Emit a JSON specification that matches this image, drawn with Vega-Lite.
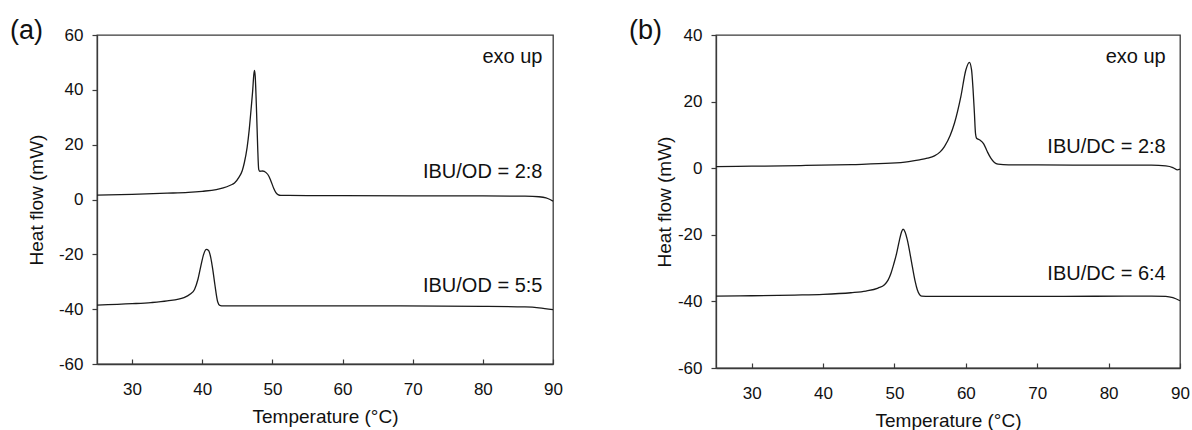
{
  "$schema": "https://vega.github.io/schema/vega-lite/v6.json",
  "padding": {"left": 9, "top": 16, "right": 5, "bottom": 5},
  "spacing": 64,
  "config": {
    "font": "Liberation Sans",
    "view": {"stroke": "#3a3a3a", "strokeWidth": 1.3},
    "axis": {"grid": false, "domainColor": "#3a3a3a", "domainWidth": 1.3, "tickColor": "#3a3a3a", "tickWidth": 1.2, "labelColor": "#111111", "titleColor": "#111111", "labelFontSize": 17, "titleFontSize": 19, "titleFontWeight": "normal", "labelFont": "Liberation Sans", "titleFont": "Liberation Sans", "labelExpr": "'' + datum.value"},
    "axisX": {"tickSize": -5, "labelPadding": 22, "titlePadding": 10, "labelFlush": false},
    "axisY": {"tickSize": 5, "labelPadding": 9, "titlePadding": 10},
    "title": {"fontSize": 27, "fontWeight": "normal", "anchor": "start", "frame": "group", "color": "#111111", "font": "Liberation Sans"}
  },
  "hconcat": [
    {
      "width": 456,
      "height": 329,
      "title": {"text": "(a)", "dx": -87, "offset": -19},
      "layer": [
        {
          "data": {"values": [
            {"s": "IBU/OD = 2:8", "t": 25, "q": 1.6},
            {"s": "IBU/OD = 2:8", "t": 30, "q": 1.9},
            {"s": "IBU/OD = 2:8", "t": 35, "q": 2.3},
            {"s": "IBU/OD = 2:8", "t": 38, "q": 2.6},
            {"s": "IBU/OD = 2:8", "t": 40, "q": 3.0},
            {"s": "IBU/OD = 2:8", "t": 42, "q": 3.6},
            {"s": "IBU/OD = 2:8", "t": 43, "q": 4.2},
            {"s": "IBU/OD = 2:8", "t": 44, "q": 5.2},
            {"s": "IBU/OD = 2:8", "t": 44.6, "q": 6.0},
            {"s": "IBU/OD = 2:8", "t": 45.2, "q": 8.0},
            {"s": "IBU/OD = 2:8", "t": 45.7, "q": 10.5},
            {"s": "IBU/OD = 2:8", "t": 46.0, "q": 13.4},
            {"s": "IBU/OD = 2:8", "t": 46.4, "q": 19},
            {"s": "IBU/OD = 2:8", "t": 46.7, "q": 25.5},
            {"s": "IBU/OD = 2:8", "t": 47.0, "q": 34},
            {"s": "IBU/OD = 2:8", "t": 47.2, "q": 40},
            {"s": "IBU/OD = 2:8", "t": 47.35, "q": 45.5},
            {"s": "IBU/OD = 2:8", "t": 47.45, "q": 47.1},
            {"s": "IBU/OD = 2:8", "t": 47.55, "q": 45},
            {"s": "IBU/OD = 2:8", "t": 47.75, "q": 31.6},
            {"s": "IBU/OD = 2:8", "t": 47.9, "q": 19.4},
            {"s": "IBU/OD = 2:8", "t": 48.05, "q": 11},
            {"s": "IBU/OD = 2:8", "t": 48.2, "q": 10.3},
            {"s": "IBU/OD = 2:8", "t": 48.6, "q": 10.4},
            {"s": "IBU/OD = 2:8", "t": 49.1, "q": 9.8},
            {"s": "IBU/OD = 2:8", "t": 49.5, "q": 8.5},
            {"s": "IBU/OD = 2:8", "t": 49.8, "q": 6.7},
            {"s": "IBU/OD = 2:8", "t": 50.2, "q": 4.0},
            {"s": "IBU/OD = 2:8", "t": 50.5, "q": 2.5},
            {"s": "IBU/OD = 2:8", "t": 50.8, "q": 1.8},
            {"s": "IBU/OD = 2:8", "t": 51.2, "q": 1.5},
            {"s": "IBU/OD = 2:8", "t": 55, "q": 1.45},
            {"s": "IBU/OD = 2:8", "t": 60, "q": 1.4},
            {"s": "IBU/OD = 2:8", "t": 70, "q": 1.35},
            {"s": "IBU/OD = 2:8", "t": 80, "q": 1.3},
            {"s": "IBU/OD = 2:8", "t": 86, "q": 1.2},
            {"s": "IBU/OD = 2:8", "t": 88, "q": 1.0},
            {"s": "IBU/OD = 2:8", "t": 89, "q": 0.6},
            {"s": "IBU/OD = 2:8", "t": 89.5, "q": 0.1},
            {"s": "IBU/OD = 2:8", "t": 90, "q": -0.6},
            {"s": "IBU/OD = 5:5", "t": 25, "q": -38.5},
            {"s": "IBU/OD = 5:5", "t": 30, "q": -38.0},
            {"s": "IBU/OD = 5:5", "t": 32.7, "q": -37.6},
            {"s": "IBU/OD = 5:5", "t": 35, "q": -37.0},
            {"s": "IBU/OD = 5:5", "t": 37.4, "q": -35.8},
            {"s": "IBU/OD = 5:5", "t": 38.3, "q": -34.5},
            {"s": "IBU/OD = 5:5", "t": 38.9, "q": -32.8},
            {"s": "IBU/OD = 5:5", "t": 39.4, "q": -29},
            {"s": "IBU/OD = 5:5", "t": 39.8, "q": -24.3},
            {"s": "IBU/OD = 5:5", "t": 40.2, "q": -20},
            {"s": "IBU/OD = 5:5", "t": 40.6, "q": -18.2},
            {"s": "IBU/OD = 5:5", "t": 40.9, "q": -18.6},
            {"s": "IBU/OD = 5:5", "t": 41.2, "q": -21},
            {"s": "IBU/OD = 5:5", "t": 41.5, "q": -25.5},
            {"s": "IBU/OD = 5:5", "t": 41.8, "q": -31},
            {"s": "IBU/OD = 5:5", "t": 42.2, "q": -37.3},
            {"s": "IBU/OD = 5:5", "t": 42.5, "q": -38.6},
            {"s": "IBU/OD = 5:5", "t": 43, "q": -38.8},
            {"s": "IBU/OD = 5:5", "t": 60, "q": -38.8},
            {"s": "IBU/OD = 5:5", "t": 80, "q": -39.0},
            {"s": "IBU/OD = 5:5", "t": 86, "q": -39.2},
            {"s": "IBU/OD = 5:5", "t": 88, "q": -39.5},
            {"s": "IBU/OD = 5:5", "t": 90, "q": -40.2}
          ]},
          "mark": {"type": "line", "color": "#1a1a1a", "strokeWidth": 1.3, "interpolate": "monotone"},
          "encoding": {
            "x": {"field": "t", "type": "quantitative", "scale": {"domain": [25, 90], "nice": false, "zero": false}, "axis": {"values": [30, 40, 50, 60, 70, 80, 90], "title": "Temperature (°C)"}},
            "y": {"field": "q", "type": "quantitative", "scale": {"domain": [-60, 60], "nice": false, "zero": false}, "axis": {"values": [-60, -40, -20, 0, 20, 40, 60], "title": "Heat flow (mW)", "titlePadding": 12}},
            "detail": {"field": "s"}
          }
        },
        {
          "data": {"values": [
            {"label": "exo up", "t": 88.5, "q": 49.7},
            {"label": "IBU/OD = 2:8", "t": 88.5, "q": 8.0},
            {"label": "IBU/OD = 5:5", "t": 88.5, "q": -33.7}
          ]},
          "mark": {"type": "text", "align": "right", "baseline": "alphabetic", "fontSize": 20, "color": "#111111", "font": "Liberation Sans"},
          "encoding": {
            "x": {"field": "t", "type": "quantitative"},
            "y": {"field": "q", "type": "quantitative"},
            "text": {"field": "label"}
          }
        }
      ]
    },
    {
      "width": 464,
      "height": 333,
      "title": {"text": "(b)", "dx": -87, "offset": -19},
      "layer": [
        {
          "data": {"values": [
            {"s": "IBU/DC = 2:8", "t": 25, "q": 0.5},
            {"s": "IBU/DC = 2:8", "t": 30, "q": 0.6},
            {"s": "IBU/DC = 2:8", "t": 36.9, "q": 0.8},
            {"s": "IBU/DC = 2:8", "t": 44, "q": 1.1},
            {"s": "IBU/DC = 2:8", "t": 49.5, "q": 1.5},
            {"s": "IBU/DC = 2:8", "t": 52, "q": 2.0},
            {"s": "IBU/DC = 2:8", "t": 53.5, "q": 2.5},
            {"s": "IBU/DC = 2:8", "t": 54.6, "q": 3.0},
            {"s": "IBU/DC = 2:8", "t": 55.6, "q": 3.7},
            {"s": "IBU/DC = 2:8", "t": 56.4, "q": 4.9},
            {"s": "IBU/DC = 2:8", "t": 57.0, "q": 6.5},
            {"s": "IBU/DC = 2:8", "t": 57.8, "q": 9.8},
            {"s": "IBU/DC = 2:8", "t": 58.4, "q": 13.5},
            {"s": "IBU/DC = 2:8", "t": 59.3, "q": 21.5},
            {"s": "IBU/DC = 2:8", "t": 60.0, "q": 29.5},
            {"s": "IBU/DC = 2:8", "t": 60.5, "q": 31.8},
            {"s": "IBU/DC = 2:8", "t": 60.8, "q": 29.5},
            {"s": "IBU/DC = 2:8", "t": 61.0, "q": 24},
            {"s": "IBU/DC = 2:8", "t": 61.2, "q": 16.5},
            {"s": "IBU/DC = 2:8", "t": 61.35, "q": 10.5},
            {"s": "IBU/DC = 2:8", "t": 61.5, "q": 9.0},
            {"s": "IBU/DC = 2:8", "t": 62.0, "q": 8.4},
            {"s": "IBU/DC = 2:8", "t": 62.5, "q": 7.3},
            {"s": "IBU/DC = 2:8", "t": 63.0, "q": 5.0},
            {"s": "IBU/DC = 2:8", "t": 63.5, "q": 3.0},
            {"s": "IBU/DC = 2:8", "t": 64.0, "q": 1.7},
            {"s": "IBU/DC = 2:8", "t": 64.5, "q": 1.2},
            {"s": "IBU/DC = 2:8", "t": 66, "q": 1.0},
            {"s": "IBU/DC = 2:8", "t": 75, "q": 0.95},
            {"s": "IBU/DC = 2:8", "t": 86, "q": 0.9},
            {"s": "IBU/DC = 2:8", "t": 88, "q": 0.7},
            {"s": "IBU/DC = 2:8", "t": 89, "q": 0.2},
            {"s": "IBU/DC = 2:8", "t": 89.6, "q": -0.5},
            {"s": "IBU/DC = 2:8", "t": 90, "q": -0.3},
            {"s": "IBU/DC = 6:4", "t": 25, "q": -38.4},
            {"s": "IBU/DC = 6:4", "t": 30, "q": -38.3},
            {"s": "IBU/DC = 6:4", "t": 36, "q": -38.1},
            {"s": "IBU/DC = 6:4", "t": 40, "q": -37.9},
            {"s": "IBU/DC = 6:4", "t": 43.9, "q": -37.4},
            {"s": "IBU/DC = 6:4", "t": 46, "q": -36.9},
            {"s": "IBU/DC = 6:4", "t": 47.7, "q": -36.0},
            {"s": "IBU/DC = 6:4", "t": 48.6, "q": -35.0},
            {"s": "IBU/DC = 6:4", "t": 49.1, "q": -33.6},
            {"s": "IBU/DC = 6:4", "t": 49.5, "q": -31.6},
            {"s": "IBU/DC = 6:4", "t": 49.9, "q": -28.8},
            {"s": "IBU/DC = 6:4", "t": 50.3, "q": -25.6},
            {"s": "IBU/DC = 6:4", "t": 50.7, "q": -21.6},
            {"s": "IBU/DC = 6:4", "t": 51.0, "q": -19.1},
            {"s": "IBU/DC = 6:4", "t": 51.2, "q": -18.3},
            {"s": "IBU/DC = 6:4", "t": 51.5, "q": -19.2},
            {"s": "IBU/DC = 6:4", "t": 51.8, "q": -21.5},
            {"s": "IBU/DC = 6:4", "t": 52.5, "q": -29.5},
            {"s": "IBU/DC = 6:4", "t": 52.9, "q": -34},
            {"s": "IBU/DC = 6:4", "t": 53.2, "q": -36.5},
            {"s": "IBU/DC = 6:4", "t": 53.8, "q": -38.4},
            {"s": "IBU/DC = 6:4", "t": 55, "q": -38.5},
            {"s": "IBU/DC = 6:4", "t": 70, "q": -38.5},
            {"s": "IBU/DC = 6:4", "t": 86, "q": -38.4},
            {"s": "IBU/DC = 6:4", "t": 88, "q": -38.5},
            {"s": "IBU/DC = 6:4", "t": 89, "q": -38.9},
            {"s": "IBU/DC = 6:4", "t": 90, "q": -39.8}
          ]},
          "mark": {"type": "line", "color": "#1a1a1a", "strokeWidth": 1.3, "interpolate": "monotone"},
          "encoding": {
            "x": {"field": "t", "type": "quantitative", "scale": {"domain": [25, 90], "nice": false, "zero": false}, "axis": {"values": [30, 40, 50, 60, 70, 80, 90], "title": "Temperature (°C)"}},
            "y": {"field": "q", "type": "quantitative", "scale": {"domain": [-60, 40], "nice": false, "zero": false}, "axis": {"values": [-60, -40, -20, 0, 20, 40], "title": "Heat flow (mW)", "titlePadding": 3}},
            "detail": {"field": "s"}
          }
        },
        {
          "data": {"values": [
            {"label": "exo up", "t": 88.0, "q": 31.5},
            {"label": "IBU/DC = 2:8", "t": 88.0, "q": 4.5},
            {"label": "IBU/DC = 6:4", "t": 88.0, "q": -33.5}
          ]},
          "mark": {"type": "text", "align": "right", "baseline": "alphabetic", "fontSize": 20, "color": "#111111", "font": "Liberation Sans"},
          "encoding": {
            "x": {"field": "t", "type": "quantitative"},
            "y": {"field": "q", "type": "quantitative"},
            "text": {"field": "label"}
          }
        }
      ]
    }
  ]
}
